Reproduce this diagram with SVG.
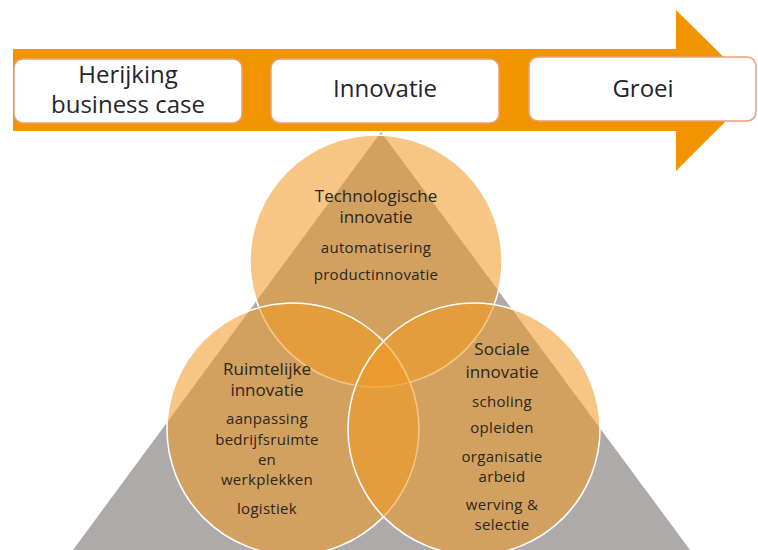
<svg xmlns="http://www.w3.org/2000/svg" width="758" height="550" viewBox="0 0 758 550">
  <style>
    .box { fill: #ffffff; stroke: #e9a07a; stroke-width: 1.5; }
    .boxtxt { font-family: "Open Sans", "Liberation Sans", sans-serif; font-size: 24px; fill: #24242c; text-anchor: middle; }
    .circ { fill: #f09a24; fill-opacity: 0.56; stroke: #ffffff; stroke-width: 1.5; }
    .title { font-family: "Open Sans", "Liberation Sans", sans-serif; font-size: 17px; fill: #2a2620; text-anchor: middle; }
    .item { font-family: "Open Sans", "Liberation Sans", sans-serif; font-size: 15px; letter-spacing: 0.3px; fill: #2a2620; text-anchor: middle; }
  </style>
  <rect width="758" height="550" fill="#ffffff"/>

  <g id="connectors">
    <path id="process-arrow" d="M13,49 L676,49 L676,10 L757,90 L676,171 L676,131 L13,131 Z" fill="#f29400"/>
  </g>

  <g id="box-herijking">
    <rect class="box" x="14" y="59" width="228" height="64" rx="9"/>
    <text class="boxtxt" x="128" y="83">Herijking</text>
    <text class="boxtxt" x="128" y="113">business case</text>
  </g>
  <g id="box-innovatie">
    <rect class="box" x="271" y="59" width="228" height="64" rx="9"/>
    <text class="boxtxt" x="385" y="97">Innovatie</text>
  </g>
  <g id="box-groei">
    <rect class="box" x="529" y="57" width="227" height="64" rx="9"/>
    <text class="boxtxt" x="643" y="97">Groei</text>
  </g>

  <g id="triangle">
    <polygon points="381,132 73,550 690,550" fill="#aeaaaa"/>
  </g>

  <g id="circle-technologisch">
    <circle class="circ" cx="376" cy="261" r="126"/>
  </g>
  <g id="circle-ruimtelijk">
    <circle class="circ" cx="293" cy="429" r="126"/>
  </g>
  <g id="circle-sociaal">
    <circle class="circ" cx="474" cy="429" r="126"/>
  </g>

  <g id="text-technologisch">
    <text class="title" x="376" y="202">Technologische</text>
    <text class="title" x="376" y="223">innovatie</text>
    <text class="item" x="376" y="253">automatisering</text>
    <text class="item" x="376" y="280">productinnovatie</text>
  </g>
  <g id="text-ruimtelijk">
    <text class="title" x="267" y="375">Ruimtelijke</text>
    <text class="title" x="267" y="396">innovatie</text>
    <text class="item" x="267" y="424">aanpassing</text>
    <text class="item" x="267" y="445">bedrijfsruimte</text>
    <text class="item" x="267" y="465">en</text>
    <text class="item" x="267" y="485">werkplekken</text>
    <text class="item" x="267" y="514">logistiek</text>
  </g>
  <g id="text-sociaal">
    <text class="title" x="502" y="355">Sociale</text>
    <text class="title" x="502" y="378">innovatie</text>
    <text class="item" x="502" y="407">scholing</text>
    <text class="item" x="502" y="433">opleiden</text>
    <text class="item" x="502" y="462">organisatie</text>
    <text class="item" x="502" y="482">arbeid</text>
    <text class="item" x="502" y="510">werving &amp;</text>
    <text class="item" x="502" y="530">selectie</text>
  </g>
</svg>
